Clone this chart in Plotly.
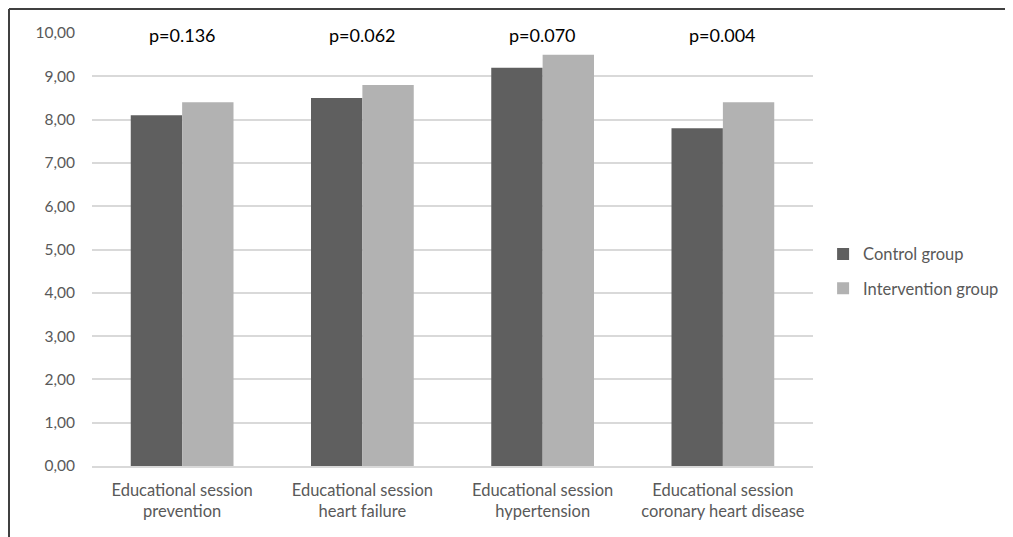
import plotly.graph_objects as go

categories = ["Educational session<br>prevention", "Educational session<br>heart failure",
              "Educational session<br>hypertension", "Educational session<br>coronary heart disease"]
control = [8.1, 8.5, 9.2, 7.8]
intervention = [8.4, 8.8, 9.5, 8.4]
p_labels = ["p=0.136", "p=0.062", "p=0.070", "p=0.004"]
y_ticks = [0, 1, 2, 3, 4, 5, 6, 7, 8, 9, 10]

FONT = "Lato, Carlito, 'Open Sans', sans-serif"

fig = go.Figure()
fig.add_trace(go.Bar(name="Control group", x=categories, y=control, marker_color="#5f5f5f",
                     marker_line_width=0, legendgroup="c"))
fig.add_trace(go.Bar(name="Intervention group", x=categories, y=intervention, marker_color="#b2b2b2",
                     marker_line_width=0, legendgroup="i"))

for c, p in zip(categories, p_labels):
    fig.add_annotation(x=c, y=10, text=p, showarrow=False, yshift=-2,
                       font=dict(size=18, color="#000000", family=FONT))

OFF = 8  # page body offset
W, H = 1013, 537
L, T = 92 - OFF, 33 - OFF
pw, ph = 721, 433
R = W - L - pw
B = H - T - ph
x_left = (1 - L) / pw
y_top = (T + ph - 1) / ph
y_bot = -0.5
x_right = (W + 10 - L) / pw
fig.add_shape(type="line", xref="paper", yref="paper", x0=x_left, x1=x_right, y0=y_top, y1=y_top,
              line=dict(color="#404040", width=2))
fig.add_shape(type="line", xref="paper", yref="paper", x0=x_left, x1=x_left, y0=y_top, y1=y_bot,
              line=dict(color="#404040", width=2))

fig.update_layout(
    width=W, height=H,
    margin=dict(l=L, r=R, t=T, b=B),
    barmode="group", bargap=0.43, bargroupgap=0,
    plot_bgcolor="white", paper_bgcolor="white",
    separators=", ",
    font=dict(family=FONT, size=15, color="#595959"),
    legend=dict(x=1.014, y=0.45, xanchor="left", yanchor="middle",
                font=dict(size=16.5, color="#595959"), itemwidth=30, tracegroupgap=10),
    xaxis=dict(showgrid=False, showline=True, linecolor="#d9d9d9", linewidth=1.5,
               tickfont=dict(size=16.5, color="#595959"), ticks="", ticklabelstandoff=8),
    yaxis=dict(range=[0, 10], tickvals=y_ticks, tickformat=".2f", showgrid=True,
               gridcolor="#d9d9d9", gridwidth=1.5, zeroline=False, showline=False,
               ticks="", ticklen=0, ticklabelstandoff=16,
               tickfont=dict(size=15.5, color="#595959")),
)

fig.write_html("out.html")
